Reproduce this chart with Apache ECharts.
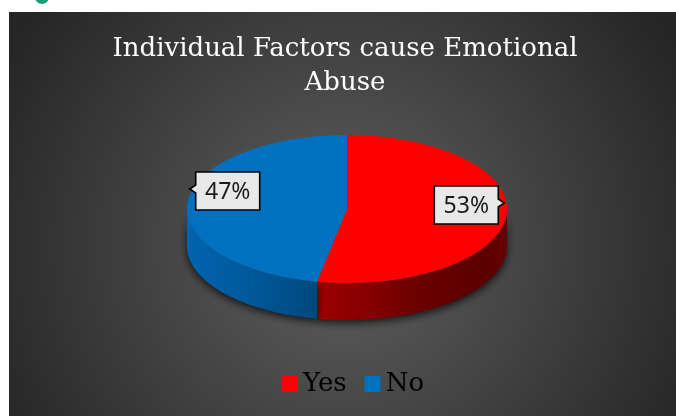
<!DOCTYPE html>
<html><head><meta charset="utf-8">
<script src="https://cdn.jsdelivr.net/npm/echarts@6/dist/echarts.min.js"></script>
<style>html,body{margin:0;padding:0;background:#fff}#c{width:676px;height:416px}</style>
</head><body><div id="c"></div>
<script>
const titleLines = ['Individual Factors cause Emotional', 'Abuse'];
const categories = ['Yes', 'No'];
const values = [53, 47];
const colors = ['#ff0000', '#0070c0'];

const sideStops = [
  [{offset:0,color:'#9e0000'},{offset:0.55,color:'#6a0000'},{offset:0.9,color:'#5a0000'},{offset:1,color:'#680000'}],
  [{offset:0,color:'#0064b0'},{offset:0.5,color:'#005899'},{offset:1,color:'#00487e'}]
];
const P = {cx:347, cy:209, rx:160, ry:74, depth:37};
const total = values.reduce((a,b)=>a+b,0);
function pt(t, dy){ const r=t*Math.PI/180; return [P.cx+P.rx*Math.sin(r), P.cy-P.ry*Math.cos(r)+(dy||0)]; }
function arc(a0,a1,dy){ const pts=[]; const n=Math.max(2,Math.ceil(Math.abs(a1-a0))); for(let k=0;k<=n;k++){pts.push(pt(a0+(a1-a0)*k/n,dy));} return pts; }

function renderSlice(params, api){
  const i = categories.indexOf(params.seriesName);
  const v = api.value(0);
  let start = 0; for(let k=0;k<i;k++) start += values[k]/total*360;
  const end = start + v/total*360;
  const children = [];
  const s0=Math.max(start,90), s1=Math.min(end,270);
  if(s0<s1){
    const pts = arc(s0,s1,0).concat(arc(s1,s0,P.depth));
    children.push({type:'polygon', shape:{points:pts}, style:{fill:{type:'linear',x:0,y:0,x2:1,y2:0,colorStops:sideStops[i]}, shadowBlur:9, shadowColor:'rgba(0,0,0,0.75)', shadowOffsetY:3}});
  }
  const top = [[P.cx,P.cy]].concat(arc(start,end,0));
  children.push({type:'polygon', shape:{points:top}, style:{fill:colors[i]}});
  const mid=(start+end)/2;
  const rim = pt(mid,0);
  const side = Math.sin(mid*Math.PI/180) >= 0 ? 1 : -1;
  const tip = [rim[0]-side*2, rim[1]-13];
  const w=64,h=38;
  const edgeX = tip[0]-side*6;
  const cyb = tip[1]+2;
  const x0 = side>0 ? edgeX-w : edgeX; const x1 = x0+w;
  const y0 = cyb-h/2, y1=cyb+h/2;
  let poly;
  if(side>0){
    poly=[[x0,y0],[x1,y0],[x1,tip[1]-4],tip,[x1,tip[1]+4],[x1,y1],[x0,y1]];
  } else {
    poly=[[x0,y0],[x1,y0],[x1,y1],[x0,y1],[x0,tip[1]+4],tip,[x0,tip[1]-4]];
  }
  children.push({type:'polygon', z2:50, shape:{points:poly}, style:{fill:'#e8e8e8', stroke:'#000', lineWidth:1.6}});
  children.push({type:'text', z2:60, style:{text:Math.round(v/total*100)+'%', x:(x0+x1)/2, y:cyb+1, align:'center', verticalAlign:'middle', fontFamily:'"Noto Sans"', fontSize:23, fill:'#1a1a1a'}});
  return {type:'group', children};
}

const chart = echarts.init(document.getElementById('c'), null, {renderer:'canvas'});
chart.setOption({
  animation:false,
  backgroundColor:'#ffffff',
  graphic:[
    {type:'rect', z:-10, shape:{x:9,y:12,width:667,height:404}, style:{fill:{type:'radial',x:0.5,y:0.58,r:0.95,colorStops:[{offset:0,color:'#606060'},{offset:1,color:'#262626'}]}}},
    {type:'circle', z:-10, shape:{cx:42,cy:-3,r:7}, style:{fill:'#1c9c78'}}
  ],
  title:{
    text: titleLines.join('\n'),
    left:340, top:27, textAlign:'center',
    textStyle:{color:'#ffffff', fontFamily:'"DejaVu Serif"', fontSize:26, fontWeight:'normal', lineHeight:34}
  },
  legend:{
    data:categories, left:277, top:366, icon:'rect', itemWidth:16, itemHeight:16, itemGap:18,
    textStyle:{fontFamily:'"DejaVu Serif"', fontSize:26, color:'#000'}
  },
  series: categories.map((name,i)=>({
    type:'custom', name, coordinateSystem:'none', renderItem:renderSlice,
    data:[values[i]], itemStyle:{color:colors[i]}, silent:true
  }))
});
</script>
</body></html>
